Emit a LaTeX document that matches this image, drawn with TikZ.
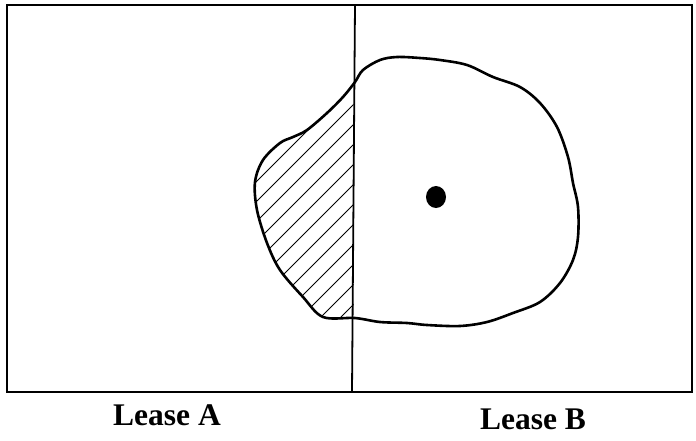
\documentclass[tikz,border=0pt]{standalone}
\usepackage{fontspec}
\setmainfont{Liberation Serif}
\begin{document}
\begin{tikzpicture}[x=1pt,y=-1pt,
  frame/.style={line width=2.8pt},
  divider/.style={line width=1.8pt},
  outline/.style={line width=2.6pt, line join=round},
  hatch/.style={line width=0.9pt},
  lbl/.style={font=\fontsize{31.5}{36}\selectfont\bfseries, inner sep=0pt}]
\useasboundingbox (0,0) rectangle (696,440);
\def\blob{plot[smooth cycle, tension=0.55] coordinates {
  (355,82) (363,70) (380,60) (397,57) (420,58) (440,60) (467,65) (493,77)
  (520,87) (540,103) (557,127) (568,157) (573,183) (578,207) (578,237)
  (573,260) (560,283) (540,302) (513,313) (487,322) (460,326) (427,325)
  (407,323) (380,322) (355,318) (323,317) (303,297) (280,270) (267,243)
  (257,210) (255,182) (263,160) (280,143) (293,137) (307,130) (327,113)
  (343,97)}}
% hatching in the part of the pool that lies under Lease A
\begin{scope}
  \clip \blob;
  \clip (0,0) rectangle (353.5,440);
  \foreach \c in {358,378,...,718}
    \draw[hatch] (\c-400,400) -- (\c,0);
\end{scope}
\draw[outline] \blob;
% outer frame and lease boundary
\draw[frame] (7,5) rectangle (692,392);
\draw[divider] (355,5) -- (352,392);
% well
\fill (436,197) ellipse (10 and 11);
% labels
\node[lbl] (la) at (167,415.5) {Lease A};
\node[lbl] (lb) at (533,419) {Lease B};
\end{tikzpicture}
\end{document}
